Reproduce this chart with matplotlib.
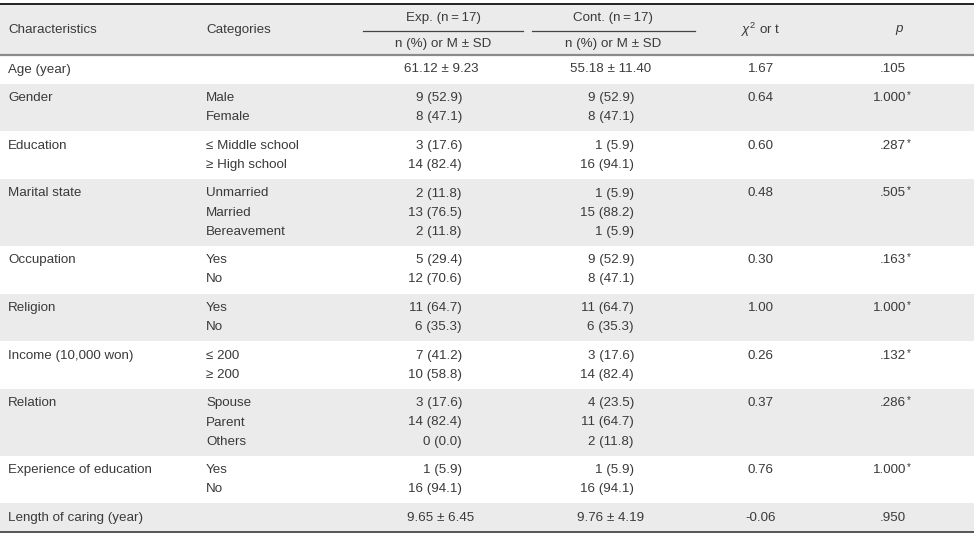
import matplotlib
matplotlib.use("Agg")
import matplotlib.pyplot as plt
from matplotlib.patches import Rectangle

plt.rcParams['font.family'] = ['Liberation Sans', 'DejaVu Sans']
plt.rcParams['mathtext.fontset'] = 'custom'
plt.rcParams['mathtext.it'] = 'Liberation Sans:italic'
plt.rcParams['mathtext.rm'] = 'Liberation Sans'

# ---------------- data ----------------
characteristics = ["Age (year)", "Gender", "Education", "Marital state", "Occupation",
                   "Religion", "Income (10,000 won)", "Relation",
                   "Experience of education", "Length of caring (year)"]
categories = [[""], ["Male", "Female"], ["\u2264 Middle school", "\u2265 High school"],
              ["Unmarried", "Married", "Bereavement"], ["Yes", "No"], ["Yes", "No"],
              ["\u2264 200", "\u2265 200"], ["Spouse", "Parent", "Others"], ["Yes", "No"], [""]]
exp_values = [["61.12 \u00b1 9.23"], ["9 (52.9)", "8 (47.1)"], ["3 (17.6)", "14 (82.4)"],
              ["2 (11.8)", "13 (76.5)", "2 (11.8)"], ["5 (29.4)", "12 (70.6)"],
              ["11 (64.7)", "6 (35.3)"], ["7 (41.2)", "10 (58.8)"],
              ["3 (17.6)", "14 (82.4)", "0 (0.0)"], ["1 (5.9)", "16 (94.1)"], ["9.65 \u00b1 6.45"]]
cont_values = [["55.18 \u00b1 11.40"], ["9 (52.9)", "8 (47.1)"], ["1 (5.9)", "16 (94.1)"],
               ["1 (5.9)", "15 (88.2)", "1 (5.9)"], ["9 (52.9)", "8 (47.1)"],
               ["11 (64.7)", "6 (35.3)"], ["3 (17.6)", "14 (82.4)"],
               ["4 (23.5)", "11 (64.7)", "2 (11.8)"], ["1 (5.9)", "16 (94.1)"], ["9.76 \u00b1 4.19"]]
stat_values = ["1.67", "0.64", "0.60", "0.48", "0.30", "1.00", "0.26", "0.37", "0.76", "-0.06"]
p_values = [".105", "1.000", ".287", ".505", ".163", "1.000", ".132", ".286", "1.000", ".950"]
fisher = [False, True, True, True, True, True, True, True, True, False]
header_groups = ["Exp. (n\u2009=\u200917)", "Cont. (n\u2009=\u200917)"]
header_sub = "n (%) or M \u00b1 SD"

# ---------------- layout ----------------
W, H = 974, 536
fig = plt.figure(figsize=(W / 100, H / 100), dpi=100)
ax = fig.add_axes([0, 0, 1, 1])
ax.set_xlim(0, W)
ax.set_ylim(H, 0)
ax.axis("off")

TXT = "#3a3a3a"
SHADE = "#ebebeb"
FS = 9.6
LINE = 19.1
PAD = 9.5

x_char, x_cat = 8, 206
x_exp_r, x_exp_c = 462, 441
x_cont_r, x_cont_c = 634, 611
x_stat = 761
x_p_r = 906

top, head_bot = 4, 55

# header shading & lines
ax.add_patch(Rectangle((0, top), W, head_bot - top, color=SHADE, lw=0, zorder=0))
ax.plot([0, W], [top, top], color="#222222", lw=1.4, zorder=3)
ax.plot([0, W], [head_bot, head_bot], color="#8a8a8a", lw=1.6, zorder=3)
ax.plot([363, 523], [31, 31], color="#444444", lw=0.9)
ax.plot([532, 695], [31, 31], color="#444444", lw=0.9)

ax.text(x_char, 30, "Characteristics", fontsize=FS, color=TXT, va="center", ha="left")
ax.text(x_cat, 30, "Categories", fontsize=FS, color=TXT, va="center", ha="left")
for cx, lab in zip([443, 613], header_groups):
    ax.text(cx, 18, lab, fontsize=FS, color=TXT, va="center", ha="center")
    ax.text(cx, 44, header_sub, fontsize=FS, color=TXT, va="center", ha="center")
ax.text(x_stat, 30, r"$\chi^{2}$ or t", fontsize=FS, color=TXT, va="center", ha="center")
ax.text(900, 30, r"$p$", fontsize=FS, color=TXT, va="center", ha="center")

y = head_bot
for i, name in enumerate(characteristics):
    n = len(categories[i])
    h = PAD + LINE * n
    if i % 2 == 1:
        ax.add_patch(Rectangle((0, y), W, h, color=SHADE, lw=0, zorder=0))
    y0 = y + 14.5
    ax.text(x_char, y0, name, fontsize=FS, color=TXT, va="center", ha="left")
    for k in range(n):
        yy = y0 + k * LINE
        if categories[i][k]:
            ax.text(x_cat, yy, categories[i][k], fontsize=FS, color=TXT, va="center", ha="left")
        ev, cv = exp_values[i][k], cont_values[i][k]
        if "\u00b1" in ev:
            ax.text(x_exp_c, yy, ev, fontsize=FS, color=TXT, va="center", ha="center")
            ax.text(x_cont_c, yy, cv, fontsize=FS, color=TXT, va="center", ha="center")
        else:
            ax.text(x_exp_r, yy, ev, fontsize=FS, color=TXT, va="center", ha="right")
            ax.text(x_cont_r, yy, cv, fontsize=FS, color=TXT, va="center", ha="right")
    ax.text(x_stat, y0, stat_values[i], fontsize=FS, color=TXT, va="center", ha="center")
    ax.text(x_p_r, y0, p_values[i], fontsize=FS, color=TXT, va="center", ha="right")
    if fisher[i]:
        ax.text(x_p_r + 0.5, y0 - 3, "*", fontsize=FS * 0.75, color=TXT, va="center", ha="left")
    y += h

ax.plot([0, W], [y, y], color="#555555", lw=1.4, zorder=3)

fig.savefig("out.png", dpi=100, facecolor="white")
